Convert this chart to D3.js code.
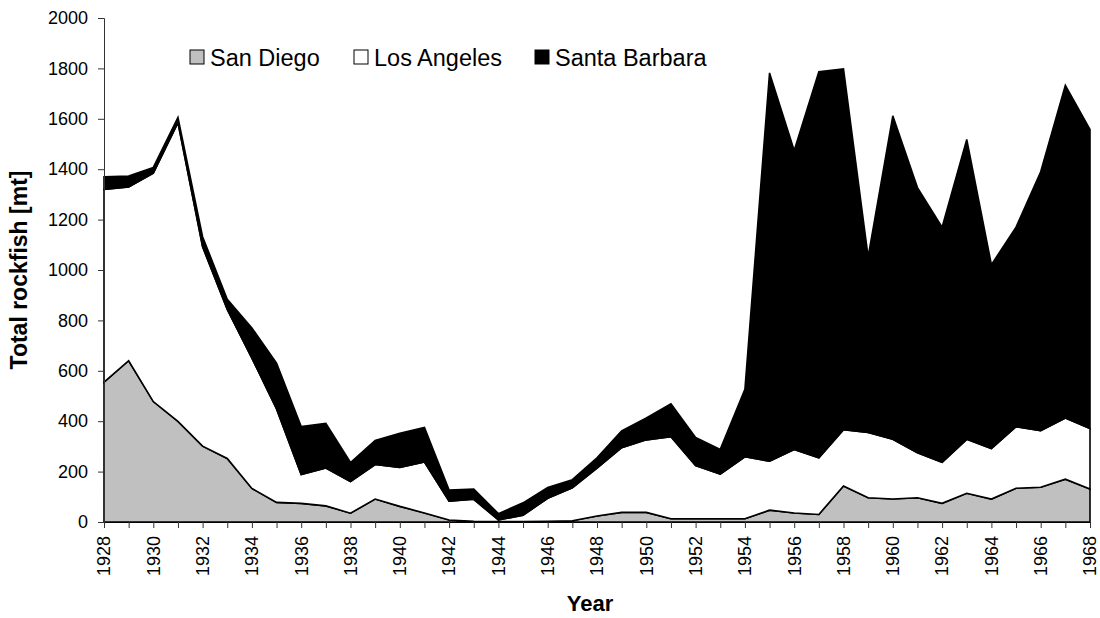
<!DOCTYPE html>
<html>
<head>
<meta charset="utf-8">
<script src="https://cdn.jsdelivr.net/npm/d3@7"></script>
<style>
  body { margin: 0; background: #fff; }
  text { font-family: Arial, "Liberation Sans", sans-serif; fill: #000; }
</style>
</head>
<body>
<script>
// years and landings per port (mt)
const years = d3.range(1928, 1969);

const sanDiego = [555, 640, 478, 399, 301, 252, 133, 78, 74, 64,
  35, 91, 62, 36, 8, 3, 2, 2, 3, 5,
  24, 38, 38, 13, 13, 13, 13, 47, 36, 30,
  143, 96, 91, 96, 74, 114, 91, 134, 138, 170, 131];

const losAngeles = [765, 689, 906, 1186, 791, 592, 517, 371, 114, 150,
  125, 137, 155, 202, 75, 87, 6, 25, 91, 131,
  190, 257, 288, 325, 211, 177, 246, 194, 252, 225,
  223, 259, 237, 179, 163, 214, 200, 244, 224, 243, 240];

const santaBarbara = [50, 44, 23, 20, 40, 40, 120, 181, 191, 177,
  76, 96, 135, 137, 44, 41, 25, 49, 43, 32,
  41, 67, 87, 131, 111, 98, 268, 1541, 1186, 1532,
  1432, 697, 1284, 1052, 933, 1190, 730, 792, 1028, 1320, 1187];

const seriesNames = ['San Diego', 'Los Angeles', 'Santa Barbara'];
const seriesFill = ['#c0c0c0', '#ffffff', '#000000'];
const yTicks = d3.range(0, 2001, 200);

const width = 1100, height = 618;
const margin = {top: 18, right: 10, bottom: 96, left: 104};

const svg = d3.select('body').append('svg')
    .attr('width', width)
    .attr('height', height);

const x = d3.scaleLinear()
    .domain([1928, 1968])
    .range([margin.left, width - margin.right]);

const y = d3.scaleLinear()
    .domain([0, 2000])
    .range([height - margin.bottom, margin.top]);

const table = years.map((yr, i) => ({
  year: yr,
  'San Diego': sanDiego[i],
  'Los Angeles': losAngeles[i],
  'Santa Barbara': santaBarbara[i]
}));

const stacked = d3.stack().keys(seriesNames)(table);

const area = d3.area()
    .x(d => x(d.data.year))
    .y0(d => y(d[0]))
    .y1(d => y(d[1]));

svg.selectAll('path.layer')
    .data(stacked)
    .enter()
  .append('path')
    .attr('class', 'layer')
    .attr('d', area)
    .attr('fill', (d, i) => seriesFill[i])
    .attr('stroke', '#000')
    .attr('stroke-width', 1.6)
    .attr('stroke-linejoin', 'miter');

// y axis
const yAxis = svg.append('g')
    .attr('transform', `translate(${margin.left},0)`)
    .call(d3.axisLeft(y).tickValues(yTicks).tickSize(6).tickPadding(10).tickFormat(d3.format('d')));
yAxis.select('.domain').attr('stroke', '#333');
yAxis.selectAll('.tick line').attr('stroke', '#333');
yAxis.selectAll('text').style('font-size', '18px');

// x axis
const xAxis = svg.append('g')
    .attr('transform', `translate(0,${height - margin.bottom})`)
    .call(d3.axisBottom(x).tickValues(years).tickSize(6).tickFormat(''));
xAxis.select('.domain').attr('stroke', '#000');
xAxis.selectAll('.tick line').attr('stroke', '#333');

svg.append('g').selectAll('text')
    .data(years.filter(yr => yr % 2 === 0))
    .enter()
  .append('text')
    .attr('transform', d => `translate(${x(d)},${height - margin.bottom + 14}) rotate(-90)`)
    .attr('text-anchor', 'end')
    .attr('dy', '0.35em')
    .style('font-size', '18px')
    .text(d => d);

// axis titles
svg.append('text')
    .attr('transform', `translate(27,${(margin.top + height - margin.bottom) / 2}) rotate(-90)`)
    .attr('text-anchor', 'middle')
    .style('font-size', '23px')
    .style('font-weight', 'bold')
    .text('Total rockfish [mt]');

svg.append('text')
    .attr('x', 590)
    .attr('y', 611)
    .attr('text-anchor', 'middle')
    .style('font-size', '22px')
    .style('font-weight', 'bold')
    .text('Year');

// legend
const legendX = [190, 354, 535];
const legend = svg.append('g').selectAll('g')
    .data(seriesNames)
    .enter()
  .append('g')
    .attr('transform', (d, i) => `translate(${legendX[i]},50)`);

legend.append('rect')
    .attr('width', 14)
    .attr('height', 14)
    .attr('fill', (d, i) => seriesFill[i])
    .attr('stroke', '#000')
    .attr('stroke-width', 1);

legend.append('text')
    .attr('x', 20)
    .attr('y', 15.5)
    .style('font-size', '23.5px')
    .text(d => d);
</script>
</body>
</html>
